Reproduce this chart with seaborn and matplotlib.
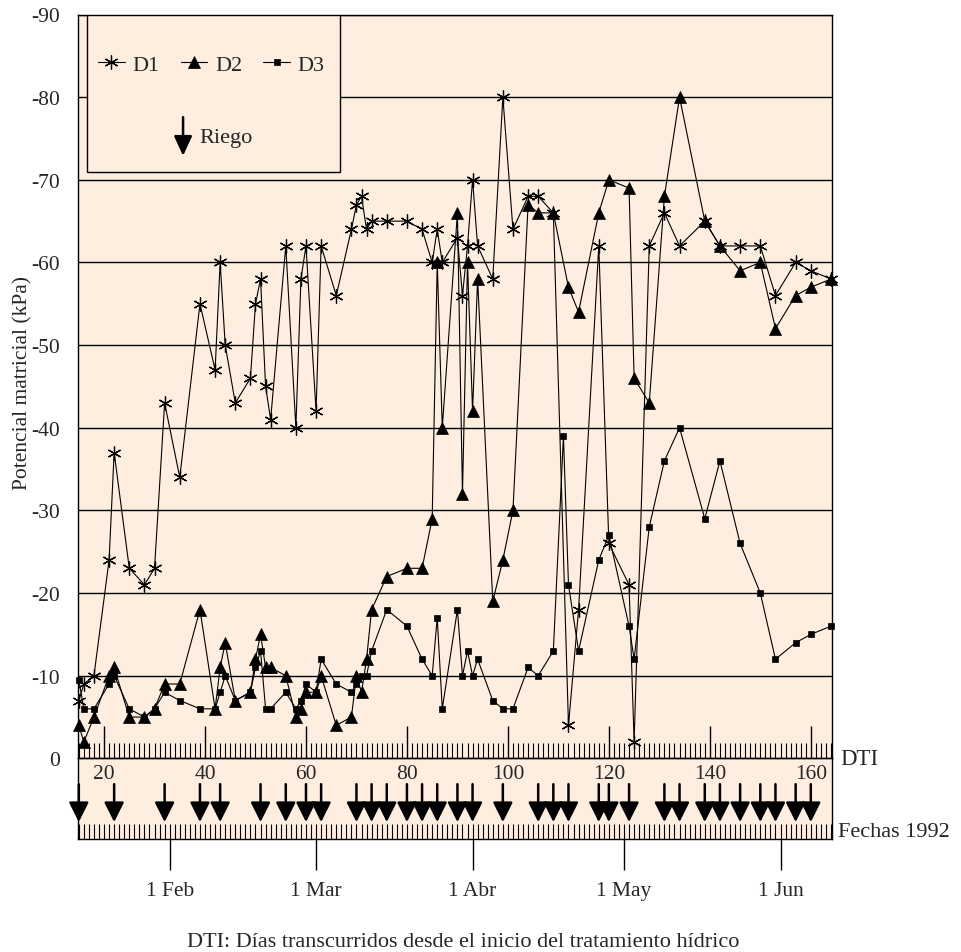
import matplotlib
matplotlib.use('Agg')
import matplotlib.pyplot as plt
import seaborn as sns
from matplotlib.patches import Rectangle
from matplotlib.ticker import MultipleLocator

# --- Datos (DTI y potencial matricial en kPa) ---
dias = [15, 16, 18, 21, 22, 25, 28, 30, 32, 35, 39, 42, 43, 44, 46, 49, 50, 51, 52, 53,
        56, 58, 59, 60, 62, 63, 66, 69, 70, 71, 72, 73, 76, 80, 83, 85, 86, 87, 90, 91,
        92, 93, 94, 97, 99, 101, 104, 106, 109, 112, 114, 118, 120, 124, 125, 128, 131,
        134, 139, 142, 146, 150, 153, 157, 160, 164]

d1 = [-7, -9, -10, -24, -37, -23, -21, -23, -43, -34,
      -55, -47, -60, -50, -43, -46, -55, -58, -45, -41,
      -62, -40, -58, -62, -42, -62, -56, -64, -67, -68,
      -64, -65, -65, -65, -64, -60, -64, -60, -63, -56,
      -62, -70, -62, -58, -80, -64, -68, -68, -66, -4,
      -18, -62, -26, -21, -2, -62, -66, -62, -65, -62,
      -62, -62, -56, -60, -59, -58]

d2 = [-4, -2, -5, -10, -11, -5, -5, -6, -9, -9,
      -18, -6, -11, -14, -7, -8, -12, -15, -11, -11,
      -10, -5, -6, -8, -8, -10, -4, -5, -10, -8,
      -12, -18, -22, -23, -23, -29, -60, -40, -66, -32,
      -60, -42, -58, -19, -24, -30, -67, -66, -66, -57,
      -54, -66, -70, -69, -46, -43, -68, -80, -65, -62,
      -59, -60, -52, -56, -57, -58]

dias_d3 = [15, 16, 18, 21, 22, 25, 28, 30, 32, 35, 39, 42, 43, 44, 46, 49, 50, 51, 52, 53,
           56, 58, 59, 60, 62, 63, 66, 69, 70, 71, 72, 73, 76, 80, 83, 85, 86, 87, 90, 91,
           92, 93, 94, 97, 99, 101, 104, 106, 109, 111, 112, 114, 118, 120, 124, 125, 128,
           131, 134, 139, 142, 146, 150, 153, 157, 160, 164]

d3 = [-9.5, -6, -6, -9, -10, -6, -5, -6, -8, -7,
      -6, -6, -8, -10, -7, -8, -11, -13, -6, -6,
      -8, -6, -7, -9, -8, -12, -9, -8, -9, -10,
      -10, -13, -18, -16, -12, -10, -17, -6, -18, -10,
      -13, -10, -12, -7, -6, -6, -11, -10, -13, -39, -21,
      -13, -24, -27, -16, -12, -28, -36, -40, -29, -36,
      -26, -20, -12, -14, -15, -16]

# dias de riego (flechas)
riego = [15, 22, 32, 39, 43, 51, 56, 60, 63, 70, 73, 76, 80, 83, 86, 90, 93, 99,
         106, 109, 112, 118, 120, 124, 131, 134, 139, 142, 146, 150, 153, 157, 160]

# primer dia de cada mes (DTI)
meses_dti = [33, 62, 93, 123, 154]
meses_txt = ['1 Feb', '1 Mar', '1 Abr', '1 May', '1 Jun']

# --- Estilo ---
sns.set_theme(style='white')
plt.rcParams['font.family'] = ['Liberation Serif', 'DejaVu Serif']
plt.rcParams['axes.unicode_minus'] = False
FONDO = '#FDEEE0'
TAM = 15.5
W, H = 961, 953

fig = plt.figure(figsize=(W / 100, H / 100), dpi=100)
x0, x1 = 78.3, 832.0
y_top, y_cero, y_base = 15.5, 759.4, 840.0
ax = fig.add_axes([x0 / W, 1 - y_cero / H, (x1 - x0) / W, (y_cero - y_top) / H])
ax2 = fig.add_axes([x0 / W, 1 - y_base / H, (x1 - x0) / W, (y_base - y_cero) / H])
ax.set_zorder(3)  # para que las etiquetas DTI queden encima de la franja

for a in (ax, ax2):
    a.set_facecolor(FONDO)
    a.set_xlim(14.9, 164.2)
    for s in a.spines.values():
        s.set_color('black')
        s.set_linewidth(1.0)

# --- Series ---
comun = dict(ax=ax, color='black', lw=0.8, clip_on=False, errorbar=None,
             markeredgecolor='black', markerfacecolor='black')
sns.lineplot(x=dias, y=d1, marker=(6, 2, 0), markersize=10, markeredgewidth=0.9,
             label='D1', **comun)
sns.lineplot(x=dias, y=d2, marker='^', markersize=8.5, markeredgewidth=0.5,
             label='D2', **comun)
sns.lineplot(x=dias_d3, y=d3, marker='s', markersize=4.2, markeredgewidth=0.5,
             label='D3', **comun)

# --- Ejes principales ---
ax.set_ylim(0, -90)
ax.set_yticks(list(range(0, -100, -10)))
ax.set_axisbelow(True)
ax.yaxis.grid(True, color='black', lw=1.0)
ax.xaxis.grid(False)
ax.set_xticks(list(range(20, 161, 20)))
ax.xaxis.set_minor_locator(MultipleLocator(1))
ax.tick_params(axis='x', which='major', direction='in', length=23, width=1.0,
               color='black', labelsize=TAM, pad=4, bottom=True)
ax.tick_params(axis='x', which='minor', direction='in', length=11, width=0.8,
               color='black', bottom=True)
ax.tick_params(axis='y', length=0, pad=13, labelsize=TAM)
ax.set_ylabel('Potencial matricial (kPa)', fontsize=TAM)
ax.yaxis.set_label_coords(-0.061, 0.506)
ax.set_xlabel('')

# --- Leyenda ---
ax.add_patch(Rectangle((0.011, 0.788), 0.336, 0.212, transform=ax.transAxes,
                       facecolor=FONDO, edgecolor='black', lw=1.0, zorder=4))
handles, labels = ax.get_legend_handles_labels()
leg = ax.legend(handles, labels, ncol=3, loc='center left', bbox_to_anchor=(0.026, 0.933),
                frameon=False, fontsize=TAM + 0.5, handlelength=1.2, handletextpad=0.35,
                columnspacing=0.95, borderpad=0, borderaxespad=0)
leg.set_zorder(5)
ax.annotate('', xy=(0.139, 0.81), xytext=(0.139, 0.862), xycoords='axes fraction',
            arrowprops=dict(arrowstyle='-|>,head_length=1.2,head_width=0.55',
                            color='black', lw=1.8, shrinkA=0, shrinkB=0,
                            mutation_scale=10), zorder=6)
ax.text(0.161, 0.834, 'Riego', transform=ax.transAxes, fontsize=TAM + 0.5,
        va='center', ha='left', zorder=6)

# --- Franja inferior: riegos y fechas ---
ax2.set_ylim(0, 1)
ax2.set_yticks([])
ax2.set_xticks(meses_dti)
ax2.set_xticklabels(meses_txt)
ax2.xaxis.set_minor_locator(MultipleLocator(1))
ax2.xaxis.remove_overlapping_locs = False
ax2.tick_params(axis='x', which='major', direction='out', length=22, width=1.0,
                color='black', labelsize=TAM, pad=8, bottom=True)
ax2.tick_params(axis='x', which='minor', direction='in', length=10.5, width=0.8,
                color='black', bottom=True)
for d in riego:
    ax2.annotate('', xy=(d, 0.21), xytext=(d, 0.68),
                 arrowprops=dict(arrowstyle='-|>,head_length=1.2,head_width=0.6',
                                 color='black', lw=1.8, shrinkA=0, shrinkB=0,
                                 mutation_scale=10))

# --- Textos ---
fig.text(840 / W, 1 - 760 / H, 'DTI', ha='left', va='center', fontsize=TAM + 1)
fig.text(838 / W, 1 - 833 / H, 'Fechas 1992', ha='left', va='center', fontsize=TAM + 0.5)
fig.text(463 / W, 1 - 943 / H,
         'DTI: Días transcurridos desde el inicio del tratamiento hídrico',
         ha='center', va='center', fontsize=TAM + 0.5)

fig.savefig('out.png', dpi=100, facecolor='white')
